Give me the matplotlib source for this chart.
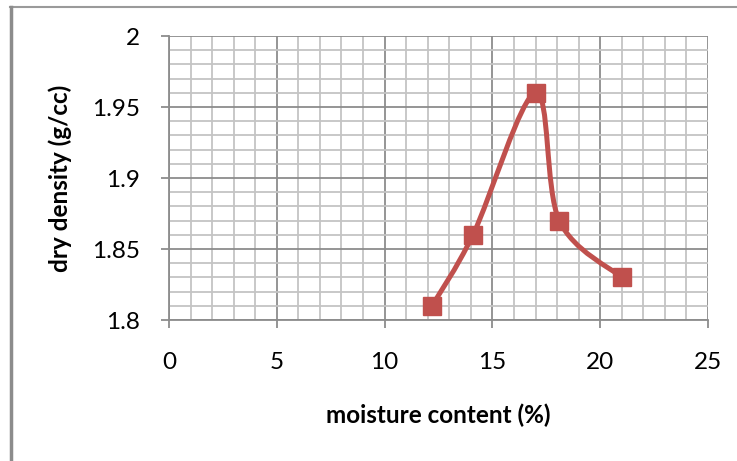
import matplotlib.pyplot as plt
from matplotlib.path import Path
from matplotlib.patches import PathPatch
from matplotlib.lines import Line2D
from matplotlib.ticker import MultipleLocator

moisture = [12.2, 14.1, 17.0, 18.1, 21.0]
density = [1.81, 1.86, 1.96, 1.87, 1.83]
x_ticks = [0, 5, 10, 15, 20, 25]
y_ticks = [1.8, 1.85, 1.9, 1.95, 2.0]
y_tick_labels = ['1.8', '1.85', '1.9', '1.95', '2']

red = '#C0504D'
plt.rcParams['font.family'] = ['Lato', 'DejaVu Sans']


def smooth_path(xs, ys):
    # Excel style smoothed line: cubic bezier through every point
    pts = list(zip(xs, ys))
    ext = [pts[0]] + pts + [pts[-1]]
    verts = [pts[0]]
    codes = [Path.MOVETO]
    for i in range(1, len(ext) - 2):
        p0, p1, p2, p3 = ext[i - 1], ext[i], ext[i + 1], ext[i + 2]
        c1 = (p1[0] + (p2[0] - p0[0]) / 6, p1[1] + (p2[1] - p0[1]) / 6)
        c2 = (p2[0] - (p3[0] - p1[0]) / 6, p2[1] - (p3[1] - p1[1]) / 6)
        verts += [c1, c2, p2]
        codes += [Path.CURVE4] * 3
    return Path(verts, codes)


fig = plt.figure(figsize=(7.37, 4.61), dpi=100)
ax = fig.add_axes([169 / 737, 1 - 320 / 461, (708 - 169) / 737, (320 - 36) / 461])

ax.set_xlim(0, 25)
ax.set_ylim(1.8, 2.0)
ax.set_xticks(x_ticks)
ax.set_yticks(y_ticks)
ax.set_yticklabels(y_tick_labels)
ax.xaxis.set_minor_locator(MultipleLocator(1))
ax.yaxis.set_minor_locator(MultipleLocator(0.01))

ax.grid(which='minor', color='#C4C4C4', linewidth=1.3)
ax.grid(which='major', color='#8C8C8C', linewidth=1.3)
ax.set_axisbelow(True)

for side in ['top', 'right']:
    ax.spines[side].set_visible(False)
for side in ['left', 'bottom']:
    ax.spines[side].set_color('#8C8C8C')
    ax.spines[side].set_linewidth(1.3)

ax.tick_params(which='major', direction='out', length=6, width=1.3, color='#8C8C8C',
               labelsize=17.5)
ax.tick_params(axis='y', pad=15)
ax.tick_params(axis='x', pad=17)
ax.tick_params(which='minor', length=0)

ax.add_patch(PathPatch(smooth_path(moisture, density), facecolor='none',
                       edgecolor=red, linewidth=3.6, zorder=3))
ax.plot(moisture, density, linestyle='none', marker='s', markersize=13,
        color=red, zorder=4, clip_on=False)

ax.set_xlabel('moisture content (%)', fontsize=17.5, fontweight='bold', labelpad=22)
ax.set_ylabel('dry density (g/cc)', fontsize=17.5, fontweight='bold', labelpad=14)

# chart area border
fig.add_artist(Line2D([10 / 737, 1], [1 - 7 / 461, 1 - 7 / 461], color='#9A9A9A', linewidth=1.5))
fig.add_artist(Line2D([11 / 737, 11 / 737], [0, 1 - 7 / 461], color='#8C8C8C', linewidth=2.5))

fig.savefig('out.png', dpi=100, facecolor='white')
